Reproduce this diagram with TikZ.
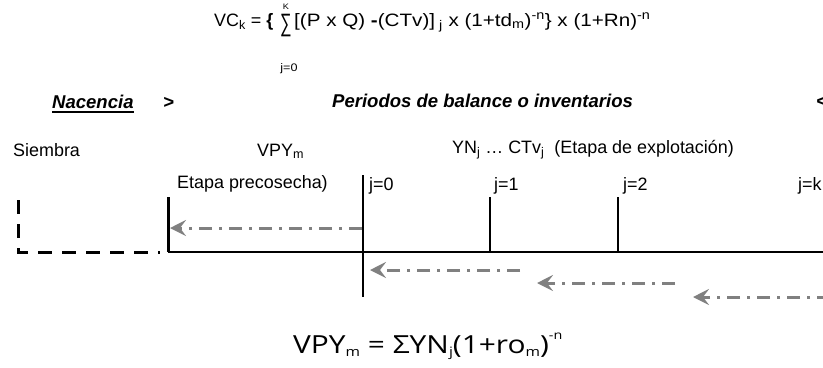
\documentclass[tikz,border=0pt]{standalone}
\usepackage{fontspec}
\setmainfont{Liberation Sans}
\newfontfamily\wideformula{Liberation Sans}[FakeStretch=1.15]
\newfontfamily\vpyfont{Open Sans}[FakeStretch=1.2]
\usepackage{tikz}
\usetikzlibrary{arrows.meta,positioning}
\definecolor{arrgray}{RGB}{128,128,128}
\tikzstyle{lbl}=[inner sep=0pt,anchor=base west,font=\fontsize{18}{20}\selectfont]
\tikzstyle{hdr}=[inner sep=0pt,anchor=base west,font=\fontsize{18.6}{20}\selectfont\bfseries\itshape]
\tikzstyle{frm}=[inner sep=0pt,anchor=base west,font=\wideformula\fontsize{18}{20}\selectfont]
\tikzstyle{small}=[inner sep=0pt,font=\wideformula\fontsize{11}{12}\selectfont]
\tikzstyle{tick}=[draw,line width=1.3bp]
\tikzstyle{tickb}=[draw,line width=3bp]
\tikzstyle{sow}=[draw,line width=3bp,dash pattern=on 14bp off 10bp]
\tikzstyle{back}=[draw,arrgray,line width=3bp,dash pattern=on 13bp off 7bp on 3bp off 7bp,-{Stealth[length=16bp,width=16bp,inset=6bp]}]
\newcommand{\botsub}[1]{\raisebox{-3bp}{\fontsize{13}{13}\selectfont #1}}
\newcommand{\botsup}[1]{\raisebox{14bp}{\fontsize{12}{12}\selectfont #1}}
\begin{document}
\begin{tikzpicture}[x=1bp,y=-1bp]
    \useasboundingbox (0,0) rectangle (823,367);
    % valor del cultivo
    \node[lbl] (vc) at (214,26) {VC\textsubscript{k} = \textbf{\{}};
    \node[lbl] (sum) at (280,31) {\scalebox{0.9}[1.4]{∑}};
    \node[frm] (rest) at (294,26) {[(P x Q) \textbf{-}(CTv)]\textsubscript{ j} x (1+td\textsubscript{m})\textsuperscript{-n}\} x (1+Rn)\textsuperscript{-n}};
    \node[small,font=\wideformula\fontsize{8}{9}\selectfont] (kup) at (286,7) {K};
    \node[small] (jlow) at (289,69) {j=0};
    % encabezados
    \node[hdr] (nac) at (52,108) {Nacencia};
    \draw[line width=2bp] ([yshift=-4bp]nac.base west) -- ([yshift=-4bp]nac.base east);
    \node[hdr] (gt) at (163,108) {>};
    \node[hdr] (per) at (332,107) {Periodos de balance o inventarios};
    \node[hdr] (lt) at (816,107) {<};
    \node[lbl] (siem) at (13,156) {Siembra};
    \node[lbl] (vpy) at (257,156) {VPY\textsubscript{m}};
    \node[lbl] (yn) at (452,153) {YN\textsubscript{j} … CTv\textsubscript{j}\ \ (Etapa de explotación)};
    \node[lbl] (pre) at (177,188) {Etapa precosecha)};
    \node[lbl] (j0) at (369,190) {j=0};
    \node[lbl] (j1) at (494,190) {j=1};
    \node[lbl] (j2) at (623,190) {j=2};
    \node[lbl] (jk) at (798,190) {j=k};
    % eje de tiempo
    \coordinate (o) at (168,252);
    \coordinate (e) at (823,252);
    \coordinate (p0) at (168,197);
    \coordinate (t0a) at (363,175);
    \coordinate (t0b) at (363,297);
    \coordinate (t1a) at (490,197);
    \coordinate (t1b) at (490,252);
    \coordinate (t2a) at (618,197);
    \coordinate (t2b) at (618,252);
    \coordinate (s1) at (18,200);
    \coordinate (s2) at (18,252);
    \coordinate (s3) at (160,252);
    \draw[tick] (o) -- (e);
    \draw[tickb] (p0) -- (o);
    \draw[draw,line width=2.5bp] (t0a) -- (t0b);
    \draw[tick] (t1a) -- (t1b);
    \draw[tick] (t2a) -- (t2b);
    \draw[sow] (s1) -- (s2) -- (s3);
    % descuentos
    \coordinate (a1s) at (362,228);
    \coordinate (a1e) at (170,228);
    \coordinate (a2s) at (520,270);
    \coordinate (a2e) at (370,270);
    \coordinate (a3s) at (675,283);
    \coordinate (a3e) at (537,283);
    \coordinate (a4s) at (830,297);
    \coordinate (a4e) at (693,297);
    \draw[back] (a1s) -- (a1e);
    \draw[back] (a2s) -- (a2e);
    \draw[back] (a3s) -- (a3e);
    \draw[back] (a4s) -- (a4e);
    % formula VPY
    \node[inner sep=0pt,anchor=base west,font=\vpyfont\fontsize{25}{28}\selectfont] (vpyf) at (293,353)
      {VPY\botsub{m} = ΣYN\botsub{j}(1+ro\botsub{m})\botsup{-n}};
\end{tikzpicture}
\end{document}
